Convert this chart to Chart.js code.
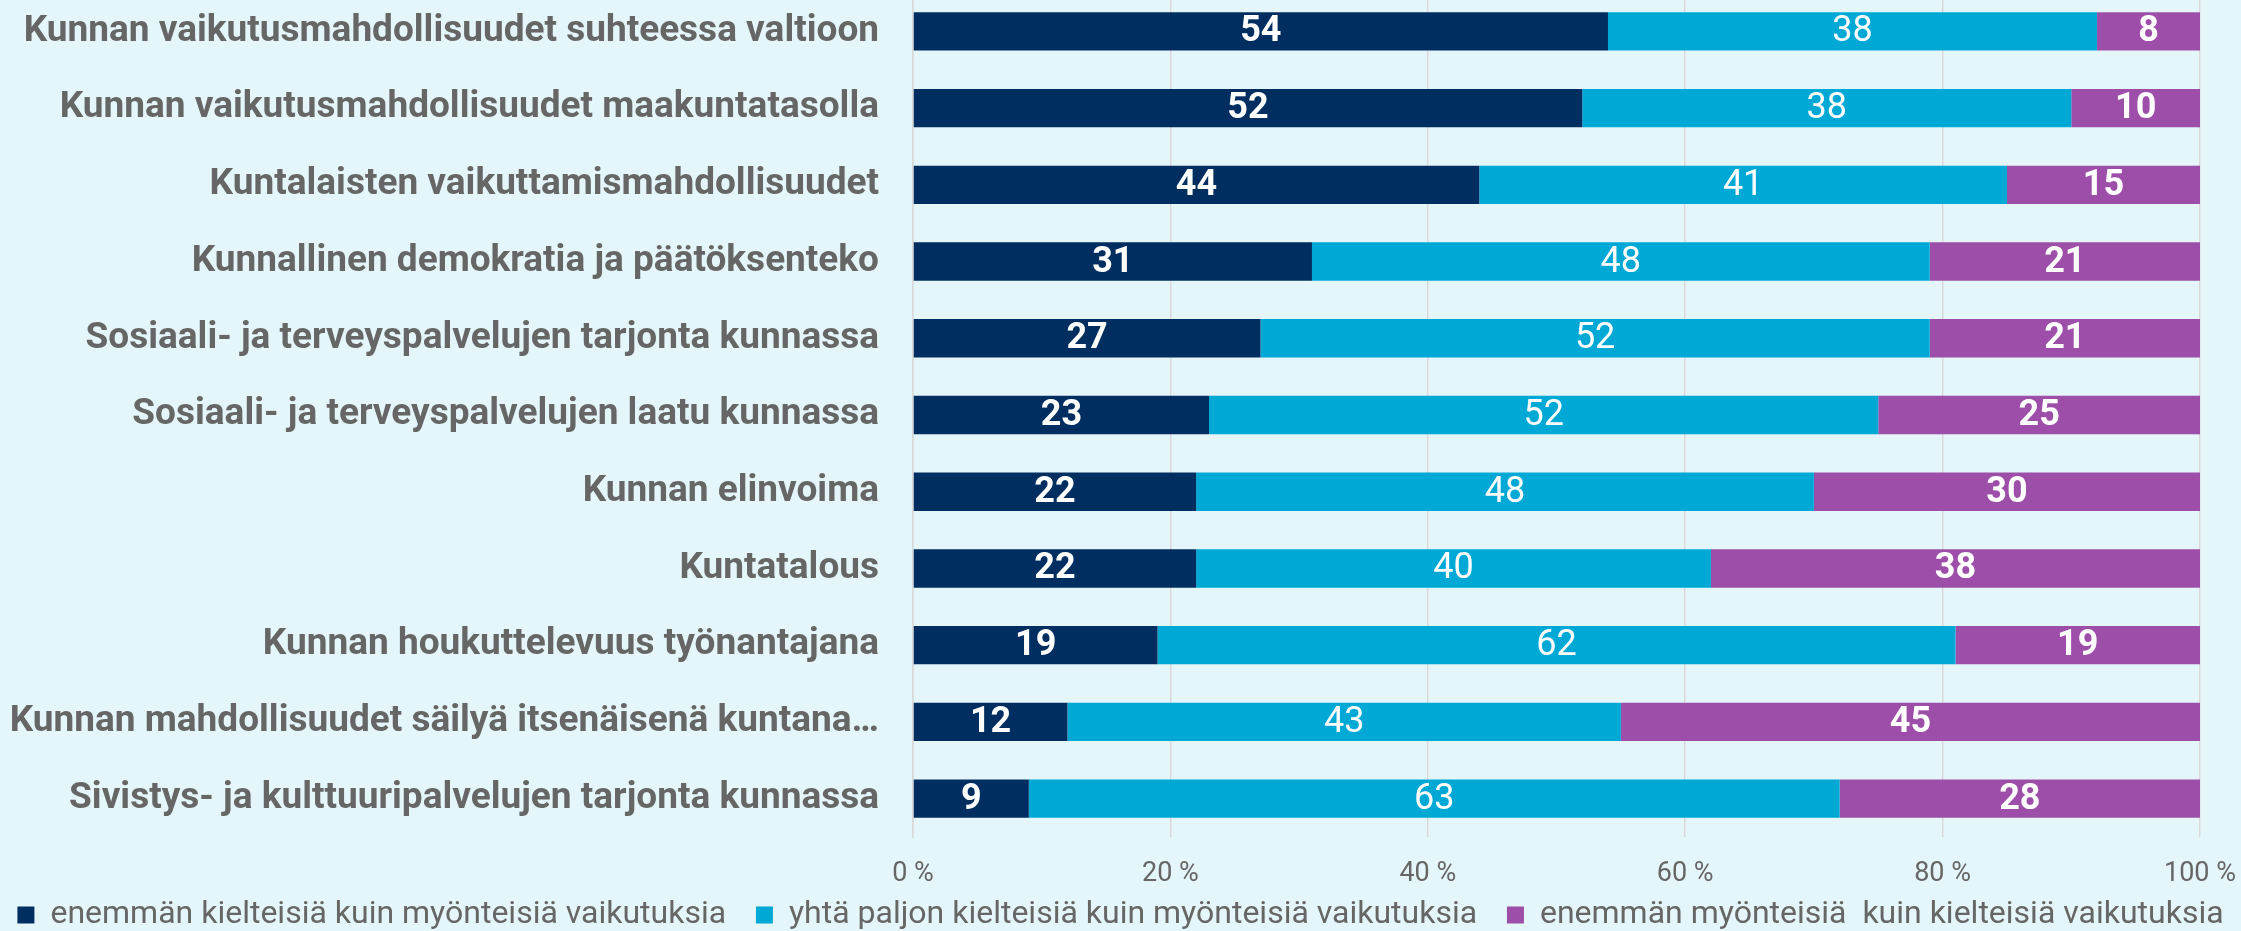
<!DOCTYPE html>
<html>
<head>
<meta charset="utf-8">
<script src="https://cdn.jsdelivr.net/npm/chart.js@4"></script>
<style>
  html, body { margin: 0; padding: 0; background: #e4f6fa; overflow: hidden; }
  #wrap { width: 2241px; height: 931px; position: relative; overflow: hidden; }
  /* plot area starts a little above the window, like in the original export */
  #chart { position: absolute; left: 0; top: -7px; }
</style>
</head>
<body>
<div id="wrap"><canvas id="chart" width="2241" height="948"></canvas></div>
<script>
// categories (top to bottom)
const categories = [
  'Kunnan vaikutusmahdollisuudet suhteessa valtioon',
  'Kunnan vaikutusmahdollisuudet maakuntatasolla',
  'Kuntalaisten vaikuttamismahdollisuudet',
  'Kunnallinen demokratia ja päätöksenteko',
  'Sosiaali- ja terveyspalvelujen tarjonta kunnassa',
  'Sosiaali- ja terveyspalvelujen laatu kunnassa',
  'Kunnan elinvoima',
  'Kuntatalous',
  'Kunnan houkuttelevuus työnantajana',
  'Kunnan mahdollisuudet säilyä itsenäisenä kuntana…',
  'Sivistys- ja kulttuuripalvelujen tarjonta kunnassa'
];

const seriesNames = [
  'enemmän kielteisiä kuin myönteisiä vaikutuksia',
  'yhtä paljon kielteisiä kuin myönteisiä vaikutuksia',
  'enemmän myönteisiä  kuin kielteisiä vaikutuksia'
];

const negative = [54, 52, 44, 31, 27, 23, 22, 22, 19, 12, 9];
const neutral  = [38, 38, 41, 48, 52, 52, 48, 40, 62, 43, 63];
const positive = [8, 10, 15, 21, 21, 25, 30, 38, 19, 45, 28];

const xTicks = [0, 20, 40, 60, 80, 100];

const FONT = 'Roboto, "Noto Sans", sans-serif';
const GREY = '#666666';

// value labels in the middle of each segment
const barLabels = {
  id: 'barLabels',
  afterDatasetsDraw(chart) {
    const ctx = chart.ctx;
    ctx.save();
    ctx.fillStyle = '#ffffff';
    ctx.textAlign = 'center';
    ctx.textBaseline = 'middle';
    chart.data.datasets.forEach((ds, di) => {
      const meta = chart.getDatasetMeta(di);
      ctx.font = (di === 1 ? '400 ' : '700 ') + '36px ' + FONT;
      meta.data.forEach((bar, i) => {
        const cx = (bar.x + bar.base) / 2;
        ctx.fillText(String(ds.data[i]), cx, bar.y + 1);
      });
    });
    ctx.restore();
  }
};

new Chart(document.getElementById('chart'), {
  type: 'bar',
  data: {
    labels: categories,
    datasets: [
      { label: seriesNames[0], data: negative, backgroundColor: '#002e60' },
      { label: seriesNames[1], data: neutral,  backgroundColor: '#00a8d6' },
      { label: seriesNames[2], data: positive, backgroundColor: '#9c4ea8' }
    ]
  },
  options: {
    indexAxis: 'y',
    responsive: false,
    animation: false,
    layout: { padding: 0 },
    datasets: { bar: { categoryPercentage: 1.0, barPercentage: 0.5 } },
    plugins: {
      legend: {
        position: 'bottom',
        labels: {
          color: GREY,
          font: { family: FONT, size: 32 },
          boxWidth: 17, boxHeight: 17,
          padding: 6,
          // extra gap after the first two entries
          generateLabels: c => Chart.defaults.plugins.legend.labels.generateLabels(c)
            .map((it, i) => { if (i < 2) it.text += '   '; return it; })
        }
      },
      tooltip: { enabled: false }
    },
    scales: {
      x: {
        stacked: true,
        min: 0, max: 100,
        afterBuildTicks: s => { s.ticks = xTicks.map(v => ({ value: v })); },
        afterFit: s => { s.height = 56; s.paddingLeft = 0; s.paddingRight = 41; },
        ticks: {
          color: GREY,
          font: { family: FONT, size: 27 },
          padding: 21,
          callback: v => v + ' %'
        },
        grid: { color: '#d9d9d9', lineWidth: 1.5, drawTicks: false },
        border: { display: false }
      },
      y: {
        stacked: true,
        afterFit: s => { s.width = 913; s.paddingTop = 0; s.paddingBottom = 0; },
        ticks: {
          color: GREY,
          font: { family: FONT, size: 37, weight: '700' },
          padding: 34,
          autoSkip: false
        },
        grid: { display: false, drawTicks: false },
        border: { display: true, color: '#d9d9d9', width: 1.5 }
      }
    }
  },
  plugins: [barLabels]
});
</script>
</body>
</html>
